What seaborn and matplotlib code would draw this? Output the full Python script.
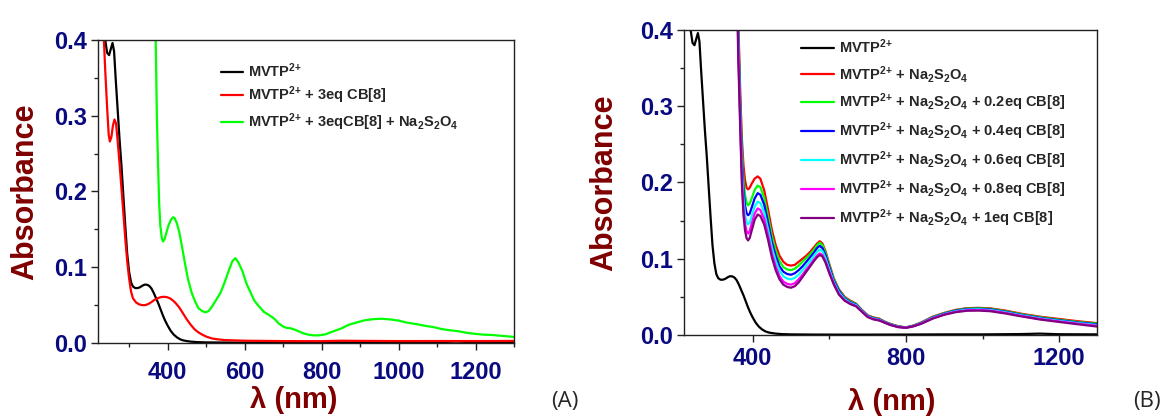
import matplotlib
matplotlib.use("Agg")
import matplotlib.pyplot as plt
import numpy as np
import pandas as pd
import seaborn as sns
from matplotlib.ticker import MultipleLocator

# ---- panel A / shared black trace -------------------------------------
wl_black = [225, 232, 238, 243, 248, 253, 257, 261, 265, 270, 275, 280, 285,
            290, 295, 300, 305, 310, 316, 322, 328, 334, 340, 346, 352, 358,
            364, 370, 376, 382, 388, 394, 400, 408, 416, 424, 432, 440, 450,
            460, 475, 500, 550, 600, 700, 800, 900, 1000, 1100, 1150, 1200, 1300]
abs_black = [0.50, 0.44, 0.400, 0.383, 0.380, 0.389, 0.396, 0.385, 0.350,
             0.310, 0.270, 0.235, 0.195, 0.155, 0.118, 0.094, 0.080, 0.0745,
             0.0725, 0.0725, 0.0735, 0.0755, 0.077, 0.077, 0.0755, 0.072,
             0.066, 0.059, 0.052, 0.044, 0.036, 0.029, 0.023, 0.016, 0.011,
             0.0075, 0.005, 0.0035, 0.0025, 0.0018, 0.0012, 0.0008, 0.0006,
             0.0005, 0.0005, 0.0006, 0.0008, 0.0008, 0.0012, 0.0018, 0.0010,
             0.0008]

wl_red_a = [225, 232, 238, 243, 247, 250, 254, 258, 262, 266, 270, 275, 280,
            285, 290, 295, 300, 305, 310, 318, 326, 334, 342, 350, 358, 366,
            374, 382, 390, 398, 406, 414, 422, 430, 440, 450, 460, 470, 480,
            490, 500, 515, 530, 550, 600, 700, 800, 850, 900, 1000, 1100,
            1200, 1300]
abs_red_a = [0.55, 0.43, 0.36, 0.31, 0.275, 0.266, 0.272, 0.287, 0.295, 0.290,
             0.268, 0.238, 0.205, 0.172, 0.138, 0.108, 0.085, 0.068, 0.059,
             0.0535, 0.051, 0.050, 0.050, 0.0515, 0.054, 0.057, 0.059, 0.0605,
             0.061, 0.0605, 0.059, 0.056, 0.052, 0.047, 0.039, 0.031, 0.024,
             0.018, 0.014, 0.011, 0.0085, 0.006, 0.0048, 0.0038, 0.003,
             0.0025, 0.0024, 0.003, 0.0028, 0.0025, 0.0026, 0.0025, 0.0027]

wl_green_a = [362, 366, 369, 372, 375, 378, 381, 385, 388, 392, 397, 402, 408,
              414, 418, 424, 430, 437, 445, 453, 462, 471, 480, 490, 498, 506,
              515, 525, 537, 548, 559, 568, 576, 584, 594, 605, 615, 625, 636,
              650, 663, 677, 688, 699, 708, 718, 728, 740, 752, 765, 780, 795,
              810, 833, 850, 870, 890, 912, 935, 955, 980, 1000, 1020, 1045,
              1070, 1090, 1110, 1130, 1155, 1175, 1200, 1220, 1245, 1270, 1300]
abs_green_a = [0.70, 0.50, 0.40, 0.30, 0.238, 0.185, 0.155, 0.138, 0.134,
               0.137, 0.146, 0.155, 0.162, 0.166, 0.165, 0.158, 0.147, 0.128,
               0.105, 0.084, 0.067, 0.055, 0.046, 0.042, 0.0405, 0.042, 0.048,
               0.056, 0.066, 0.080, 0.096, 0.108, 0.112, 0.106, 0.095, 0.078,
               0.067, 0.056, 0.049, 0.041, 0.037, 0.032, 0.026, 0.022, 0.020,
               0.0195, 0.018, 0.0155, 0.0128, 0.011, 0.010, 0.0102, 0.0115,
               0.016, 0.019, 0.024, 0.027, 0.030, 0.0315, 0.032, 0.031, 0.0295,
               0.027, 0.025, 0.0225, 0.021, 0.0185, 0.017, 0.0155, 0.0135,
               0.012, 0.011, 0.0105, 0.0093, 0.008]

labels_a = [r"MVTP$^{2{+}}$",
            r"MVTP$^{2{+}}$ + 3eq CB[8]",
            r"MVTP$^{2{+}}$ + 3eqCB[8] + Na$_2$S$_2$O$_4$"]
colors_a = ["#000000", "#ff0000", "#00ff00"]

# ---- panel B: reduced species titrated with CB[8] ----------------------
wl_b = [355, 362, 368, 372, 376, 380, 384, 388, 392, 398, 405, 413, 420, 430,
        440, 450, 460, 470, 480, 490, 500, 510, 520, 530, 540, 550, 560, 568,
        575, 582, 590, 600, 612, 625, 640, 655, 670, 685, 700, 715, 730, 745,
        760, 780, 800, 820, 840, 870, 900, 930, 960, 990, 1020, 1060, 1100,
        1150, 1200, 1250, 1300]
abs_b_00 = [0.60, 0.42, 0.31, 0.255, 0.222, 0.203, 0.193, 0.191, 0.193, 0.199,
            0.205, 0.208, 0.205, 0.190, 0.165, 0.138, 0.118, 0.104, 0.096,
            0.092, 0.091, 0.092, 0.096, 0.100, 0.104, 0.109, 0.115, 0.120,
            0.123, 0.120, 0.110, 0.093, 0.074, 0.060, 0.050, 0.045, 0.041,
            0.033, 0.026, 0.023, 0.0215, 0.0175, 0.0145, 0.0115, 0.0100,
            0.0125, 0.0165, 0.024, 0.029, 0.033, 0.0352, 0.0356, 0.035, 0.032,
            0.028, 0.024, 0.021, 0.018, 0.0155]
abs_b_02 = [0.60, 0.41, 0.30, 0.24, 0.205, 0.184, 0.173, 0.170, 0.172, 0.180,
            0.190, 0.196, 0.194, 0.180, 0.156, 0.130, 0.111, 0.097, 0.089,
            0.086, 0.085, 0.087, 0.091, 0.096, 0.101, 0.106, 0.112, 0.118,
            0.121, 0.118, 0.108, 0.091, 0.073, 0.059, 0.049, 0.044, 0.0405,
            0.0325, 0.0255, 0.0225, 0.021, 0.0172, 0.014, 0.0112, 0.0098,
            0.0122, 0.016, 0.0235, 0.0285, 0.0325, 0.0346, 0.035, 0.0343,
            0.0312, 0.0273, 0.0232, 0.020, 0.017, 0.0148]
abs_b_04 = [0.60, 0.40, 0.29, 0.228, 0.19, 0.17, 0.16, 0.157, 0.159, 0.168,
            0.179, 0.186, 0.184, 0.171, 0.148, 0.122, 0.104, 0.090, 0.083,
            0.080, 0.079, 0.081, 0.085, 0.090, 0.096, 0.102, 0.108, 0.114,
            0.117, 0.114, 0.105, 0.089, 0.071, 0.058, 0.048, 0.043, 0.0398,
            0.032, 0.025, 0.022, 0.0205, 0.0168, 0.0138, 0.011, 0.0097, 0.012,
            0.0157, 0.023, 0.028, 0.032, 0.034, 0.0344, 0.0336, 0.0305,
            0.0266, 0.0225, 0.0193, 0.0163, 0.014]
abs_b_06 = [0.60, 0.39, 0.28, 0.215, 0.178, 0.158, 0.148, 0.145, 0.147, 0.157,
            0.168, 0.175, 0.173, 0.161, 0.139, 0.115, 0.097, 0.084, 0.077,
            0.074, 0.073, 0.075, 0.079, 0.085, 0.091, 0.097, 0.104, 0.109,
            0.112, 0.110, 0.101, 0.086, 0.069, 0.056, 0.047, 0.042, 0.039,
            0.0315, 0.0245, 0.0215, 0.020, 0.0165, 0.0135, 0.0108, 0.0096,
            0.0118, 0.0154, 0.0225, 0.0275, 0.0313, 0.0333, 0.0337, 0.0328,
            0.0298, 0.026, 0.0218, 0.0186, 0.0156, 0.013]
abs_b_08 = [0.60, 0.38, 0.27, 0.203, 0.165, 0.146, 0.136, 0.133, 0.136, 0.147,
            0.159, 0.166, 0.164, 0.152, 0.131, 0.107, 0.090, 0.077, 0.070,
            0.067, 0.066, 0.068, 0.073, 0.079, 0.086, 0.092, 0.099, 0.104,
            0.107, 0.105, 0.097, 0.083, 0.067, 0.054, 0.0455, 0.041, 0.038,
            0.031, 0.024, 0.021, 0.0195, 0.0162, 0.0132, 0.0105, 0.0095,
            0.0116, 0.015, 0.022, 0.027, 0.0305, 0.0325, 0.0328, 0.032, 0.029,
            0.0252, 0.021, 0.0178, 0.0148, 0.012]
abs_b_10 = [0.60, 0.37, 0.26, 0.195, 0.157, 0.137, 0.127, 0.124, 0.127, 0.138,
            0.151, 0.158, 0.156, 0.145, 0.125, 0.102, 0.085, 0.073, 0.066,
            0.063, 0.062, 0.064, 0.069, 0.076, 0.083, 0.090, 0.097, 0.102,
            0.105, 0.103, 0.095, 0.081, 0.066, 0.053, 0.045, 0.0405, 0.0375,
            0.0305, 0.0235, 0.0205, 0.019, 0.016, 0.013, 0.0103, 0.0094,
            0.0114, 0.0147, 0.0215, 0.0265, 0.030, 0.0318, 0.032, 0.0312,
            0.0282, 0.0245, 0.0203, 0.0171, 0.014, 0.011]

na = r"MVTP$^{2{+}}$ + Na$_2$S$_2$O$_4$"
labels_b = [r"MVTP$^{2{+}}$", na,
            na + " + 0.2eq CB[8]", na + " + 0.4eq CB[8]",
            na + " + 0.6eq CB[8]", na + " + 0.8eq CB[8]",
            na + " + 1eq CB[8]"]
colors_b = ["#000000", "#ff0000", "#00ff00", "#0000ff", "#00ffff",
            "#ff00ff", "#800080"]

NAVY = "#0a0a80"
MAROON = "#800000"

sns.set_style("ticks")
plt.rcParams["font.family"] = ["Liberation Sans", "DejaVu Sans"]
plt.rcParams["font.weight"] = "bold"
plt.rcParams["mathtext.default"] = "regular"


def draw(ax, xs, ys, colors, labels):
    for x, y, c, lab in zip(xs, ys, colors, labels):
        df = pd.DataFrame({"wl": x, "A": y})
        sns.lineplot(data=df, x="wl", y="A", ax=ax, color=c, lw=1.6,
                     label=lab, estimator=None, sort=False)


def style(ax, xmajor, xminor, xpad):
    ax.set_xlim(220, 1300)
    ax.set_ylim(0, 0.4)
    ax.xaxis.set_major_locator(MultipleLocator(xmajor))
    ax.xaxis.set_minor_locator(MultipleLocator(xminor))
    ax.yaxis.set_major_locator(MultipleLocator(0.1))
    ax.yaxis.set_minor_locator(MultipleLocator(0.05))
    ax.set_yticks([0, 0.1, 0.2, 0.3, 0.4])
    ax.set_yticklabels(["0.0", "0.1", "0.2", "0.3", "0.4"])
    for sp in ax.spines.values():
        sp.set_visible(True)
        sp.set_color("#222222")
        sp.set_linewidth(1.0)
    ax.tick_params(which="both", direction="out", top=False, right=False,
                   color="#222222", width=1.0)
    ax.tick_params(which="major", length=5)
    ax.tick_params(which="minor", length=3)
    ax.tick_params(axis="y", labelsize=17, labelcolor=NAVY, pad=3)
    ax.tick_params(axis="x", labelsize=17, labelcolor=NAVY, pad=xpad)
    for t in ax.get_xticklabels() + ax.get_yticklabels():
        t.set_fontweight("bold")


fig = plt.figure(figsize=(11.66, 4.19), dpi=100)
ax_a = fig.add_axes([0.0843, 0.1814, 0.3568, 0.7232])
ax_b = fig.add_axes([0.5864, 0.2005, 0.3548, 0.7279])

draw(ax_a, [wl_black, wl_red_a, wl_green_a],
     [abs_black, abs_red_a, abs_green_a], colors_a, labels_a)
draw(ax_b, [wl_black] + [wl_b] * 6,
     [abs_black, abs_b_00, abs_b_02, abs_b_04, abs_b_06, abs_b_08, abs_b_10],
     colors_b, labels_b)

style(ax_a, 200, 100, 8)
style(ax_b, 400, 200, 4)

for ax, lx, ly, xx, xy in [(ax_a, -0.140, 0.5, 0.470, -0.142),
                           (ax_b, -0.155, 0.5, 0.503, -0.174)]:
    ax.set_ylabel("Absorbance", fontsize=22, fontweight="bold", color=MAROON)
    ax.set_xlabel("λ (nm)", fontsize=21, fontweight="bold", color=MAROON)
    ax.yaxis.set_label_coords(lx, ly)
    ax.xaxis.set_label_coords(xx, xy)

ax_a.legend(loc="upper left", bbox_to_anchor=(0.295, 0.93), frameon=False,
            prop={"weight": "bold", "size": 10.5}, handlelength=1.5,
            handletextpad=0.35, labelspacing=0.33, borderpad=0,
            borderaxespad=0)
ax_b.legend(loc="upper left", bbox_to_anchor=(0.283, 0.975), frameon=False,
            prop={"weight": "bold", "size": 10.5}, handlelength=2.3,
            handletextpad=0.35, labelspacing=0.5, borderpad=0,
            borderaxespad=0)

fig.text(0.484, 0.016, "(A)", fontsize=16, family=["Open Sans", "DejaVu Sans"],
         fontweight="normal", ha="center", va="bottom")
fig.text(0.984, 0.016, "(B)", fontsize=16, family=["Open Sans", "DejaVu Sans"],
         fontweight="normal", ha="center", va="bottom")

fig.savefig("out.png", dpi=100)
